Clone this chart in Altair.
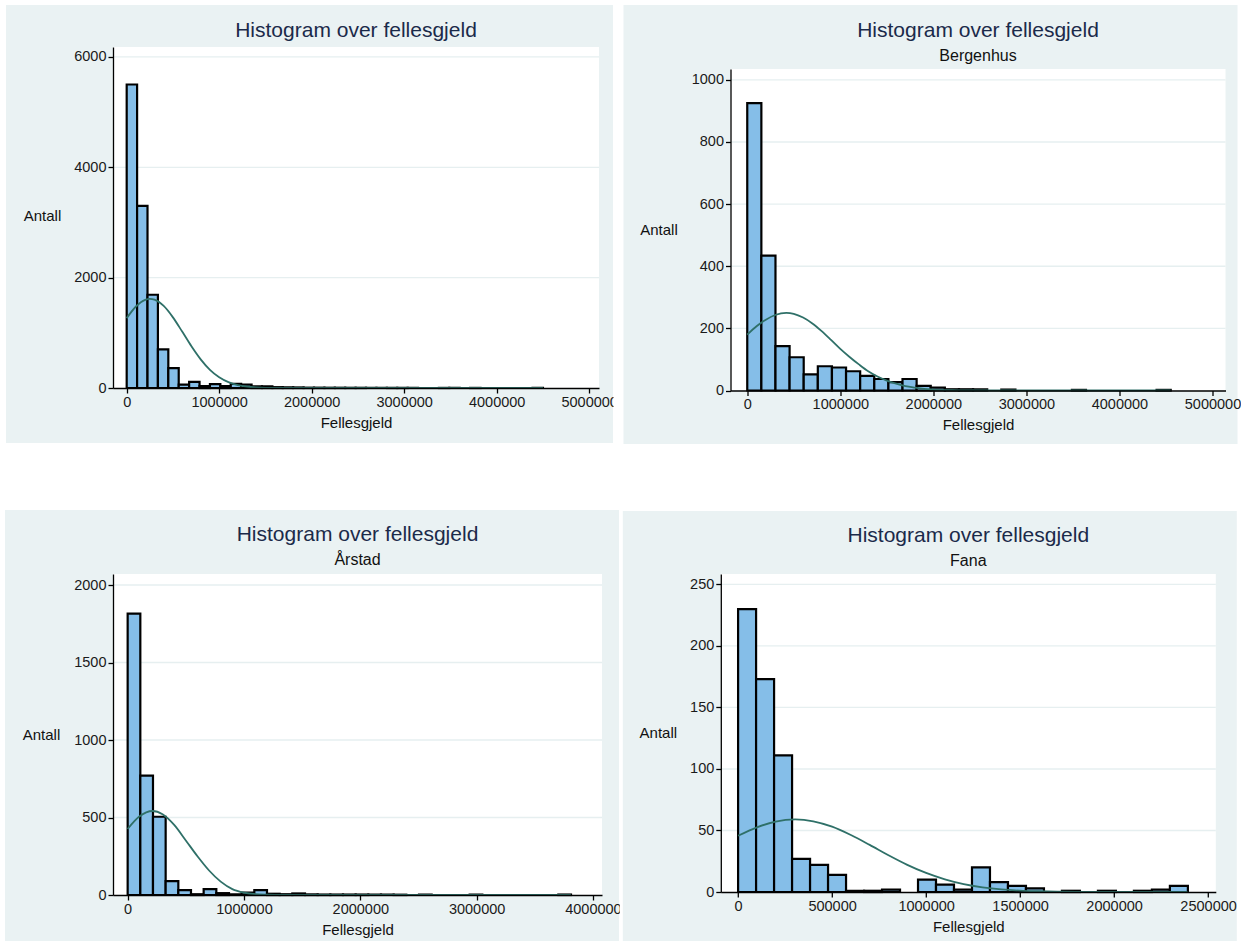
import altair as alt
import pandas as pd

TITLE = "Histogram over fellesgjeld"
XTITLE = "Fellesgjeld"
YTITLE = "Antall"

# ---- Panel 1: alle bydeler ----
p1_counts = [5500, 3300, 1690, 700, 360, 60, 110, 35, 70, 35, 75, 60, 30, 30, 15, 12, 10, 6, 6, 5,
             5, 4, 4, 3, 3, 3, 3, 2, 0, 0, 2, 2, 0, 2, 0, 0, 0, 0, 0, 2]
p1_binw = 112500
p1_curve_x = [0, 100000, 200000, 250000, 300000, 400000, 500000, 600000, 700000, 800000, 900000,
              1000000, 1100000, 1200000, 1300000, 1400000, 1500000, 1600000, 1800000, 4500000]
p1_curve_y = [1266, 1477, 1597, 1614, 1600, 1487, 1280, 1022, 756, 519, 329, 194, 106, 54, 25, 11,
              4, 2, 0, 0]
p1_xticks = [0, 1000000, 2000000, 3000000, 4000000, 5000000]
p1_yticks = [0, 2000, 4000, 6000]

# ---- Panel 2: Bergenhus ----
p2_counts = [925, 434, 143, 107, 52, 78, 74, 62, 47, 37, 27, 37, 15, 9, 4, 4, 4, 0, 3, 0,
             0, 0, 0, 2, 0, 0, 0, 0, 0, 2]
p2_binw = 151700
p2_curve_x = [0, 100000, 200000, 300000, 420000, 500000, 600000, 700000, 800000, 900000, 1000000,
              1100000, 1200000, 1300000, 1400000, 1500000, 1600000, 1700000, 1800000, 1900000,
              2000000, 2200000, 2400000, 4550000]
p2_curve_y = [180, 207, 228, 243, 250, 247, 235, 216, 191, 163, 134, 108, 84, 62, 45, 32, 22, 14,
              9, 5, 3, 1, 0, 0]
p2_xticks = [0, 1000000, 2000000, 3000000, 4000000, 5000000]
p2_yticks = [0, 200, 400, 600, 800, 1000]

# ---- Panel 3: Årstad ----
p3_counts = [1815, 770, 505, 90, 32, 5, 38, 12, 5, 15, 32, 8, 5, 10, 4, 3, 3, 3, 3, 2,
             2, 2, 0, 3, 0, 0, 0, 2, 0, 0, 0, 0, 0, 0, 3]
p3_binw = 108900
p3_curve_x = [0, 100000, 214000, 300000, 400000, 500000, 600000, 700000, 800000, 900000, 1000000,
              1100000, 1200000, 1300000, 1400000, 3810000]
p3_curve_y = [426, 506, 542, 521, 452, 352, 250, 158, 86, 38, 15, 5, 2, 1, 0, 0]
p3_xticks = [0, 1000000, 2000000, 3000000, 4000000]
p3_yticks = [0, 500, 1000, 1500, 2000]

# ---- Panel 4: Fana ----
p4_counts = [230, 173, 111, 27, 22, 14, 1, 1, 2, 0, 10, 6, 2, 20, 8, 5, 3, 0, 1, 0,
             1, 0, 1, 2, 5]
p4_binw = 95700
p4_curve_x = [0, 100000, 200000, 304000, 400000, 500000, 600000, 700000, 800000, 900000, 1000000,
              1100000, 1200000, 1300000, 1400000, 1500000, 1600000, 1800000, 2000000, 2390000]
p4_curve_y = [45.7, 52.6, 57.3, 59, 57.5, 53.1, 46.3, 38.3, 29.9, 22.1, 15.5, 10.3, 6.4, 3.8, 2.1,
              1.1, 0.6, 0.1, 0, 0]
p4_xticks = [0, 500000, 1000000, 1500000, 2000000, 2500000]
p4_yticks = [0, 50, 100, 150, 200, 250]

BG = "#EAF2F3"
BAR = "#85BEE8"
CURVE = "#2F7068"
TITLE_COLOR = "#1B2A4A"
FONT = "Liberation Sans"


def panel(counts, binw, cx, cy, subtitle, xdom, ydom, xticks, yticks, w, h, top, bg,
          title_y, sub_y, antall_x, antall_y, gap=None):
    bins = pd.DataFrame({
        "x0": [i * binw for i in range(len(counts))],
        "x1": [(i + 1) * binw for i in range(len(counts))],
        "n": counts,
    })
    bins = bins[bins["n"] > 0]
    curve = pd.DataFrame({"x0": cx, "n": cy})
    grid = pd.DataFrame({"n": [v for v in yticks if v > 0]})
    one = pd.DataFrame({"a": [0]})

    xs = alt.Scale(domain=xdom, nice=False, zero=False)
    ys = alt.Scale(domain=ydom, nice=False, zero=False, range=[h, top])
    xax = alt.Axis(values=xticks, format="d", title=XTITLE, titleX=w / 2, titleY=34,
                   titleAlign="center", titleBaseline="middle", zindex=2)
    yax = alt.Axis(values=yticks, format="d", title=YTITLE, titleAngle=0, titleX=antall_x,
                   titleY=antall_y, titleAlign="center", titleBaseline="middle", zindex=2)

    layers = []
    if gap is not None:
        # white strip between panels (hides the overflow of the neighbour's last tick label)
        layers.append(alt.Chart(one).mark_rect(color="white").encode(
            x=alt.value(gap[0]), x2=alt.value(gap[1]), y=alt.value(bg[2]),
            y2=alt.value(bg[3])))
    bgrect = alt.Chart(one).mark_rect(color=BG).encode(
        x=alt.value(bg[0]), x2=alt.value(bg[1]), y=alt.value(bg[2]), y2=alt.value(bg[3]))
    white = alt.Chart(one).mark_rect(color="white").encode(
        x=alt.value(0), x2=alt.value(w), y=alt.value(top), y2=alt.value(h))
    rules = alt.Chart(grid).mark_rule(color="#E6EFF0", strokeWidth=1.3).encode(
        y=alt.Y("n:Q", scale=ys, axis=yax), x=alt.value(0), x2=alt.value(w))
    bars = alt.Chart(bins).mark_rect(fill=BAR, stroke="black", strokeWidth=2.2).encode(
        x=alt.X("x0:Q", scale=xs, axis=xax), x2="x1:Q",
        y=alt.Y("n:Q", scale=ys, axis=yax), y2=alt.datum(0))
    line = alt.Chart(curve).mark_line(color=CURVE, strokeWidth=1.8, interpolate="monotone").encode(
        x=alt.X("x0:Q", scale=xs, axis=xax), y=alt.Y("n:Q", scale=ys, axis=yax))
    title = alt.Chart(one).mark_text(font=FONT, fontSize=21, color=TITLE_COLOR,
                                     align="center", baseline="middle").encode(
        x=alt.value(w / 2), y=alt.value(title_y), text=alt.value(TITLE))
    layers += [bgrect, white, rules, bars, line, title]
    if subtitle:
        sub = alt.Chart(one).mark_text(font=FONT, fontSize=16, color="#111111",
                                       align="center", baseline="middle").encode(
            x=alt.value(w / 2), y=alt.value(sub_y), text=alt.value(subtitle))
        layers.append(sub)
    return alt.layer(*layers).properties(width=w, height=h)


# row 1: plot origins aligned at y=47 (panel 2 plot area starts 22 px lower)
c1 = panel(p1_counts, p1_binw, p1_curve_x, p1_curve_y, None,
           [-148000, 5106000], [0, 6180], p1_xticks, p1_yticks, 486, 341, 0,
           (-107, 500, -42, 396), -16, 0, -71, 168)
c2 = panel(p2_counts, p2_binw, p2_curve_x, p2_curve_y, "Bergenhus",
           [-180000, 5140000], [0, 1035], p2_xticks, p2_yticks, 495, 343.5, 22,
           (-107, 507, -42, 397), -16, 9, -72, 182, gap=(-117, -107))
c3 = panel(p3_counts, p3_binw, p3_curve_x, p3_curve_y, "Årstad",
           [-126000, 4078000], [0, 2071], p3_xticks, p3_yticks, 489, 321, 0,
           (-108, 506, -64, 367), -39, -14, -72, 160)
c4 = panel(p4_counts, p4_binw, p4_curve_x, p4_curve_y, "Fana",
           [-92000, 2541000], [0, 258.5], p4_xticks, p4_yticks, 495, 318, 0,
           (-98, 516, -63, 367), -38, -13, -63, 158, gap=(-101, -98))

row1 = alt.hconcat(c1, c2, spacing=-4.5)
row2 = alt.hconcat(c3, c4, spacing=-2.2)
chart = alt.vconcat(row1, row2, spacing=66).properties(
    padding={"left": 5, "top": 5, "right": 0, "bottom": 0},
    background="white",
).configure_view(stroke=None, fill=None).configure_axis(
    labelFont=FONT, titleFont=FONT, labelFontSize=14.5, titleFontSize=15,
    labelColor="#1a1a1a", titleColor="#111111", titleFontWeight="normal",
    domainColor="black", tickColor="black", domainWidth=1.3, tickWidth=1.3,
    tickSize=5, labelPadding=2, grid=False,
)

chart.save("out.html", embed_options={"renderer": "svg", "actions": False})
